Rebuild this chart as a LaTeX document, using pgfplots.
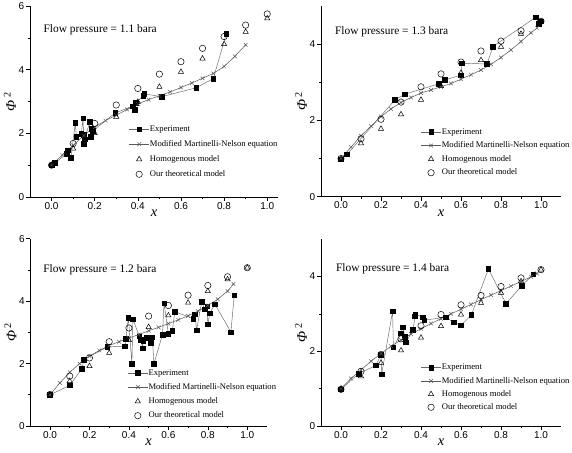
\documentclass[border=0pt]{standalone}
\usepackage{fontspec}
\setmainfont{Liberation Serif}
\newfontfamily\sansf{Liberation Sans}
\usepackage{pgfplots}
\pgfplotsset{compat=1.18}

\tikzset{ttl/.style={anchor=west, inner sep=0pt, font=\fontsize{11.4}{13}\selectfont}}
\pgfplotsset{
  myax/.style={
    scale only axis,
    axis x line*=bottom, axis y line*=left,
    axis line style={-, black, line width=0.6pt},
    tick align=outside,
    major tick length=4pt, minor tick length=2pt,
    every tick/.style={black, line width=0.6pt},
    xtick={0,0.2,0.4,0.6,0.8,1},
    xticklabels={0.0,0.2,0.4,0.6,0.8,1.0},
    minor x tick num=1, minor y tick num=1,
    /pgf/number format/assume math mode=true,
    tick label style={font=\sansf\fontsize{10}{11}\selectfont},
    xticklabel style={inner sep=1pt},
    yticklabel style={inner sep=1.5pt},
    xmin=-0.1, ymin=0,
    clip=false,
    xlabel={\textit{x}},
    ylabel={\textit{Φ}\,\textsuperscript{2}},
    label style={font=\fontsize{14.5}{16}\selectfont},
    xlabel style={at={([yshift=-16pt]axis description cs:0.5,0)}, anchor=center},
    ylabel style={at={([xshift=-20pt]axis description cs:0,0.5)}, anchor=center},
    legend style={draw=none, fill=none, inner sep=0pt, row sep=2.5pt, anchor=north west,
      font=\fontsize{8.6}{10}\selectfont,
      nodes={inner xsep=0.5pt, inner ysep=1.5pt, text height=6.3pt, text depth=1.9pt}},
    legend cell align=left,
    legend image code/.code={\draw[mark repeat=2,mark phase=2,##1] plot coordinates {(0pt,0pt) (10pt,0pt) (20pt,0pt)};},
  },
  expt/.style={color=black!60, line width=0.45pt, mark=square*, mark size=2.3pt, mark options={fill=black, draw=black, solid}},
  mmn/.style={color=black!65, line width=0.5pt, mark=x, mark size=2.6pt, mark options={black!65}},
  homo/.style={only marks, mark=triangle, mark size=3pt, mark options={black, line width=0.5pt}},
  theo/.style={only marks, mark=o, mark size=3.2pt, mark options={black, line width=0.5pt}},
}

\begin{document}
\begin{tikzpicture}
\useasboundingbox (0,0) rectangle (572pt,452pt);

% ---------- Panel 1: 1.1 bara ----------
\begin{axis}[myax, at={(30pt,255pt)}, anchor=south west, width=248pt, height=191pt,
  xmax=1.05, ymax=6, ytick={0,2,4,6}, legend style={at={(0.398,0.385)}, row sep=3.8pt}]
\addplot[expt] coordinates {
(0.00,1.00) (0.015,1.07) (0.07,1.36) (0.074,1.47) (0.09,1.23) (0.11,2.33) (0.115,1.89)
(0.138,1.99) (0.146,2.47) (0.149,1.68) (0.15,1.95) (0.155,1.82) (0.177,2.37) (0.181,1.89)
(0.185,2.14) (0.192,2.08) (0.295,2.64) (0.375,2.85) (0.385,2.75) (0.39,2.96) (0.425,3.18)
(0.43,3.24) (0.51,3.15) (0.67,3.43) (0.75,3.72) (0.81,5.12)};
\addplot[mmn] coordinates {
(0,1.0) (0.05,1.32) (0.1,1.62) (0.15,1.93) (0.2,2.2) (0.25,2.4) (0.3,2.57) (0.35,2.75)
(0.4,2.92) (0.45,3.06) (0.5,3.18) (0.55,3.3) (0.6,3.44) (0.65,3.58) (0.7,3.73) (0.75,3.88)
(0.8,4.1) (0.85,4.42) (0.9,4.78)};
\addplot[homo] coordinates {
(0,1.0) (0.1,1.52) (0.2,2.01) (0.3,2.52) (0.4,2.99) (0.5,3.46) (0.6,3.93) (0.7,4.35)
(0.8,4.8) (0.9,5.19) (1.0,5.61)};
\addplot[theo] coordinates {
(0,1.0) (0.1,1.68) (0.2,2.31) (0.3,2.89) (0.4,3.41) (0.5,3.86) (0.6,4.25) (0.7,4.67)
(0.8,5.04) (0.9,5.40) (1.0,5.75)};
\legend{Experiment, Modified Martinelli-Nelson equation, Homogenous model, Our theoretical model}
\node[ttl] at (axis description cs:0.054,0.874) {Flow pressure = 1.1 bara};
\end{axis}

% ---------- Panel 2: 1.3 bara ----------
\begin{axis}[myax, at={(321pt,255.3pt)}, anchor=south west, width=240pt, height=190.7pt,
  xmax=1.1, ymax=5, ytick={0,2,4}, legend style={at={(0.415,0.37)}, row sep=2.4pt}]
\addplot[expt] coordinates {
(0.00,0.98) (0.03,1.11) (0.27,2.54) (0.32,2.69) (0.49,2.96) (0.52,3.06) (0.60,3.19)
(0.605,3.50) (0.73,3.48) (0.76,3.94) (0.975,4.71) (0.99,4.53) (1.00,4.60)};
\addplot[mmn] coordinates {
(0,1.0) (0.05,1.3) (0.1,1.6) (0.15,1.85) (0.2,2.1) (0.25,2.3) (0.3,2.47) (0.35,2.6)
(0.4,2.72) (0.45,2.8) (0.5,2.88) (0.55,2.97) (0.6,3.08) (0.65,3.2) (0.7,3.32) (0.75,3.47)
(0.8,3.65) (0.85,3.85) (0.9,4.07) (0.95,4.3) (0.98,4.42)};
\addplot[homo] coordinates {
(0,1.0) (0.1,1.4) (0.2,1.78) (0.3,2.16) (0.4,2.54) (0.5,2.9) (0.6,3.25) (0.7,3.58)
(0.8,3.93) (0.9,4.27) (1.0,4.6)};
\addplot[theo] coordinates {
(0,1.0) (0.1,1.52) (0.2,2.03) (0.3,2.48) (0.4,2.88) (0.5,3.22) (0.6,3.53) (0.7,3.82)
(0.8,4.08) (0.9,4.35) (1.0,4.6)};
\legend{Experiment, Modified Martinelli-Nelson equation, Homogenous model, Our theoretical model}
\node[ttl] at (axis description cs:0.058,0.864) {Flow pressure = 1.3 bara};
\end{axis}

% ---------- Panel 3: 1.2 bara ----------
\begin{axis}[myax, at={(30.3pt,26pt)}, anchor=south west, width=236.7pt, height=187.3pt,
  xmax=1.1, ymax=6, ytick={0,2,4,6}, legend style={at={(0.41,0.315)}, row sep=3.1pt}]
\addplot[expt] coordinates {
(0.00,1.00) (0.10,1.30) (0.162,1.84) (0.172,2.13) (0.29,2.53) (0.38,2.56) (0.385,2.80)
(0.397,3.47) (0.415,2.00) (0.42,3.42) (0.453,2.88) (0.46,2.77) (0.47,2.49) (0.472,2.72)
(0.49,2.83) (0.51,2.67) (0.518,2.85) (0.527,2.00) (0.57,2.93) (0.578,3.93) (0.60,2.96)
(0.62,3.06) (0.633,3.66) (0.726,3.44) (0.735,3.58) (0.743,3.07) (0.769,3.98) (0.784,3.74)
(0.797,3.84) (0.80,3.26) (0.81,3.61) (0.836,3.90) (0.917,3.01) (0.934,4.19)};
\addplot[mmn] coordinates {
(0,1.0) (0.05,1.38) (0.1,1.72) (0.15,2.0) (0.2,2.24) (0.25,2.42) (0.3,2.58) (0.35,2.7)
(0.4,2.82) (0.45,2.93) (0.5,3.05) (0.55,3.16) (0.6,3.28) (0.65,3.4) (0.7,3.53) (0.75,3.68)
(0.8,3.86) (0.85,4.06) (0.9,4.32) (0.93,4.55)};
\addplot[homo] coordinates {
(0,1.0) (0.1,1.44) (0.2,1.92) (0.3,2.34) (0.4,2.75) (0.5,3.17) (0.6,3.54) (0.7,3.95)
(0.8,4.32) (0.9,4.7) (1.0,5.07)};
\addplot[theo] coordinates {
(0,1.01) (0.1,1.6) (0.2,2.18) (0.3,2.7) (0.4,3.14) (0.5,3.52) (0.6,3.86) (0.7,4.19)
(0.8,4.5) (0.9,4.78) (1.0,5.07)};
\legend{Experiment, Modified Martinelli-Nelson equation, Homogenous model, Our theoretical model}
\node[ttl] at (axis description cs:0.054,0.834) {Flow pressure = 1.2 bara};
\end{axis}

% ---------- Panel 4: 1.4 bara ----------
\begin{axis}[myax, at={(321pt,26pt)}, anchor=south west, width=240pt, height=187pt,
  xmax=1.1, ymax=5, ytick={0,2,4}, legend style={at={(0.415,0.343)}, row sep=2.0pt}]
\addplot[expt] coordinates {
(0.00,0.98) (0.088,1.40) (0.175,1.62) (0.20,1.91) (0.203,1.38) (0.258,3.07) (0.262,2.11)
(0.30,2.48) (0.308,2.64) (0.32,2.38) (0.325,2.24) (0.36,2.57) (0.37,2.93) (0.372,2.98)
(0.41,2.91) (0.417,2.83) (0.525,2.91) (0.563,2.77) (0.60,2.69) (0.652,2.97) (0.737,4.20)
(0.825,3.27) (0.903,3.75) (0.962,4.06)};
\addplot[mmn] coordinates {
(0,1.0) (0.05,1.27) (0.1,1.5) (0.15,1.73) (0.2,1.94) (0.25,2.13) (0.3,2.3) (0.35,2.46)
(0.4,2.6) (0.45,2.74) (0.5,2.87) (0.55,3.0) (0.6,3.12) (0.65,3.25) (0.7,3.38) (0.75,3.5)
(0.8,3.62) (0.85,3.74) (0.9,3.86) (0.95,3.99) (0.98,4.08)};
\addplot[homo] coordinates {
(0,1.0) (0.1,1.33) (0.2,1.69) (0.3,2.02) (0.4,2.36) (0.5,2.67) (0.6,2.98) (0.7,3.29)
(0.8,3.56) (0.9,3.87) (1.0,4.18)};
\addplot[theo] coordinates {
(0,0.98) (0.1,1.46) (0.2,1.91) (0.3,2.33) (0.4,2.68) (0.5,2.98) (0.6,3.24) (0.7,3.49)
(0.8,3.73) (0.9,3.96) (1.0,4.18)};
\legend{Experiment, Modified Martinelli-Nelson equation, Homogenous model, Our theoretical model}
\node[ttl] at (axis description cs:0.062,0.84) {Flow pressure = 1.4 bara};
\end{axis}
\end{tikzpicture}
\end{document}
